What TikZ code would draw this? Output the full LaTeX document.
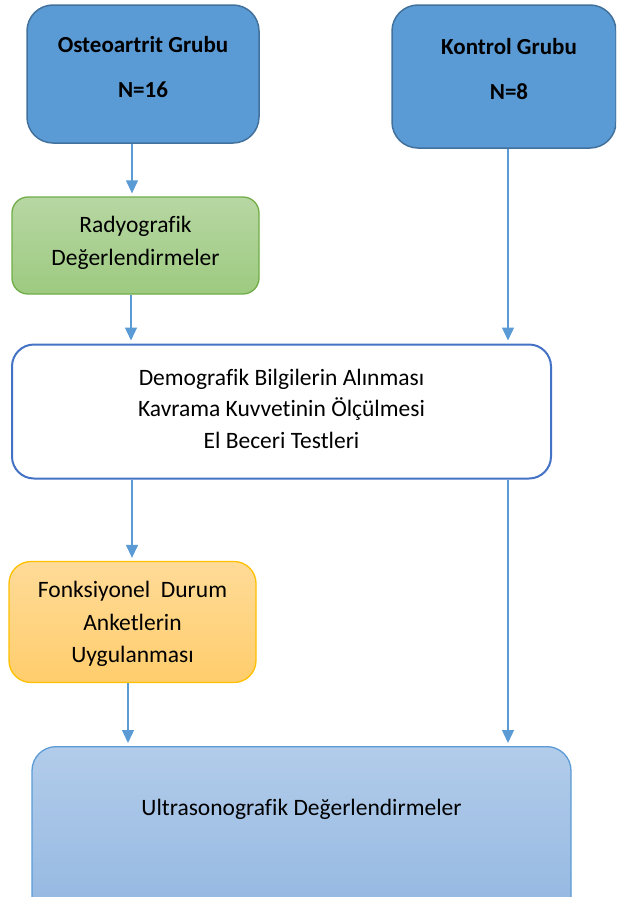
\documentclass[tikz,border=0pt]{standalone}
\usepackage{fontspec}
\setmainfont{Carlito}[Ligatures=NoCommon]
\usetikzlibrary{arrows.meta}
\definecolor{bluefill}{HTML}{5B9BD5}
\definecolor{blueedge}{HTML}{41719C}
\definecolor{arrowcol}{HTML}{5B9BD5}
\definecolor{greentop}{HTML}{B7D7A3}
\definecolor{greenbot}{HTML}{9DCA80}
\definecolor{greenedge}{HTML}{70AD47}
\definecolor{orangetop}{HTML}{FFDB98}
\definecolor{orangebot}{HTML}{FFCD6C}
\definecolor{orangeedge}{HTML}{FFC000}
\definecolor{lbluetop}{HTML}{B2CCEA}
\definecolor{lbluebot}{HTML}{93B7E1}
\definecolor{demoedge}{HTML}{4472C4}
\tikzset{
  box/.style={rounded corners=#1, align=center, inner sep=0pt, text=black},
  groupbox/.style={box=26pt, fill=bluefill, draw=blueedge, line width=1.5pt},
  grouptext/.style={font=\fontsize{23}{26}\selectfont\bfseries},
  radbox/.style={box=16pt, top color=greentop, bottom color=greenbot, draw=greenedge, line width=1.3pt},
  radtext/.style={align=center, font=\fontsize{23.5}{33}\selectfont},
  demobox/.style={box=22pt, fill=white, draw=demoedge, line width=2pt},
  demotext/.style={align=center, font=\fontsize{23.5}{31.5}\selectfont},
  fonkbox/.style={box=22pt, top color=orangetop, bottom color=orangebot, draw=orangeedge, line width=1.3pt},
  fonktext/.style={align=center, font=\fontsize{23.5}{32.5}\selectfont},
  ultrabox/.style={box=24pt, top color=lbluetop, bottom color=lbluebot, draw=bluefill, line width=1.3pt},
  ultratext/.style={font=\fontsize{23.5}{28}\selectfont},
  arr/.style={draw=arrowcol, line width=1.3pt, -{Triangle[width=12pt,length=13pt]}, shorten >=3pt}
}
\begin{document}
\begin{tikzpicture}[x=1pt,y=-1pt]
\useasboundingbox (0,0) rectangle (616,897);
\clip (0,0) rectangle (616,897);
\node[groupbox, minimum width=232pt, minimum height=138pt] (osteo) at (143,74) {};
\node[grouptext] (osteoT) at (143,45) {Osteoartrit Grubu};
\node[grouptext] (osteoN) at (143,90) {N=16};
\node[groupbox, minimum width=224pt, minimum height=143pt] (kon) at (504,76.5) {};
\node[grouptext] (konT) at (509,47) {Kontrol Grubu};
\node[grouptext] (konN) at (509,92) {N=8};
\node[radbox, minimum width=247pt, minimum height=97pt] (rad) at (135.5,245.5) {};
\node[radtext] (radT) at (135.5,243) {Radyografik\\Değerlendirmeler};
\node[demobox, minimum width=539pt, minimum height=134pt] (demo) at (281.5,411.5) {};
\node[demotext] (demoT) at (281.5,408.5) {Demografik Bilgilerin Alınması\\Kavrama Kuvvetinin Ölçülmesi\\El Beceri Testleri};
\node[fonkbox, minimum width=247pt, minimum height=121pt] (fonk) at (132.5,622) {};
\node[fonktext] (fonkT) at (132.5,624) {Fonksiyonel\ \ Durum\\Anketlerin\\Uygulanması};
\node[ultrabox, minimum width=539pt, minimum height=175pt, anchor=north] (ultra) at (301.5,746) {};
\node[ultratext] (ultraT) at (301.5,809) {Ultrasonografik Değerlendirmeler};
\draw[arr] (osteo.south -| 132,0) -- (rad.north -| 132,0);
\draw[arr] (rad.south -| 131,0) -- (demo.north -| 131,0);
\draw[arr] (kon.south -| 508,0) -- (demo.north -| 508,0);
\draw[arr] (demo.south -| 132,0) -- (fonk.north -| 132,0);
\draw[arr] (demo.south -| 508,0) -- (ultra.north -| 508,0);
\draw[arr] (fonk.south -| 128,0) -- (ultra.north -| 128,0);
\end{tikzpicture}
\end{document}
